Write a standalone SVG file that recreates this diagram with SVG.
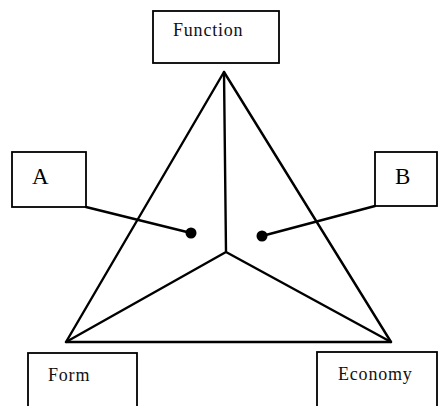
<svg xmlns="http://www.w3.org/2000/svg" width="438" height="406" viewBox="0 0 438 406">
<style>
.box{fill:#fff;stroke:#000;stroke-width:1.8}
.lbl{font-family:"Liberation Serif","Times New Roman",serif;font-size:18px;letter-spacing:0.8px;fill:#111}
.big{font-family:"Liberation Serif","Times New Roman",serif;font-size:23px;fill:#000}
.edge{stroke:#000;stroke-width:2.4;fill:none;stroke-linecap:round;stroke-linejoin:round}
</style>
<rect width="438" height="406" fill="#fff"/>
<g id="connectors">
<path class="edge" d="M224,72 L66,342 L391,342 Z"/>
<path class="edge" d="M224,72 L226,252 M66,342 L226,252 L391,342"/>
<path class="edge" d="M86,207 L191,233"/>
<path class="edge" d="M375,206 L262,236"/>
<circle cx="191" cy="233" r="5.5" fill="#000"/>
<circle cx="262" cy="236" r="5.5" fill="#000"/>
</g>
<g id="function">
<rect class="box" x="153" y="11" width="126" height="52"/>
<text class="lbl" x="173" y="36">Function</text>
</g>
<g id="a">
<rect class="box" x="12" y="152" width="74" height="55"/>
<text class="big" x="32" y="184">A</text>
</g>
<g id="b">
<rect class="box" x="375" y="152" width="62" height="54"/>
<text class="big" x="395" y="184">B</text>
</g>
<g id="form">
<rect class="box" x="28" y="353" width="109" height="60"/>
<text class="lbl" x="48" y="381">Form</text>
</g>
<g id="economy">
<rect class="box" x="317" y="352" width="120" height="60"/>
<text class="lbl" x="338" y="380">Economy</text>
</g>
</svg>
